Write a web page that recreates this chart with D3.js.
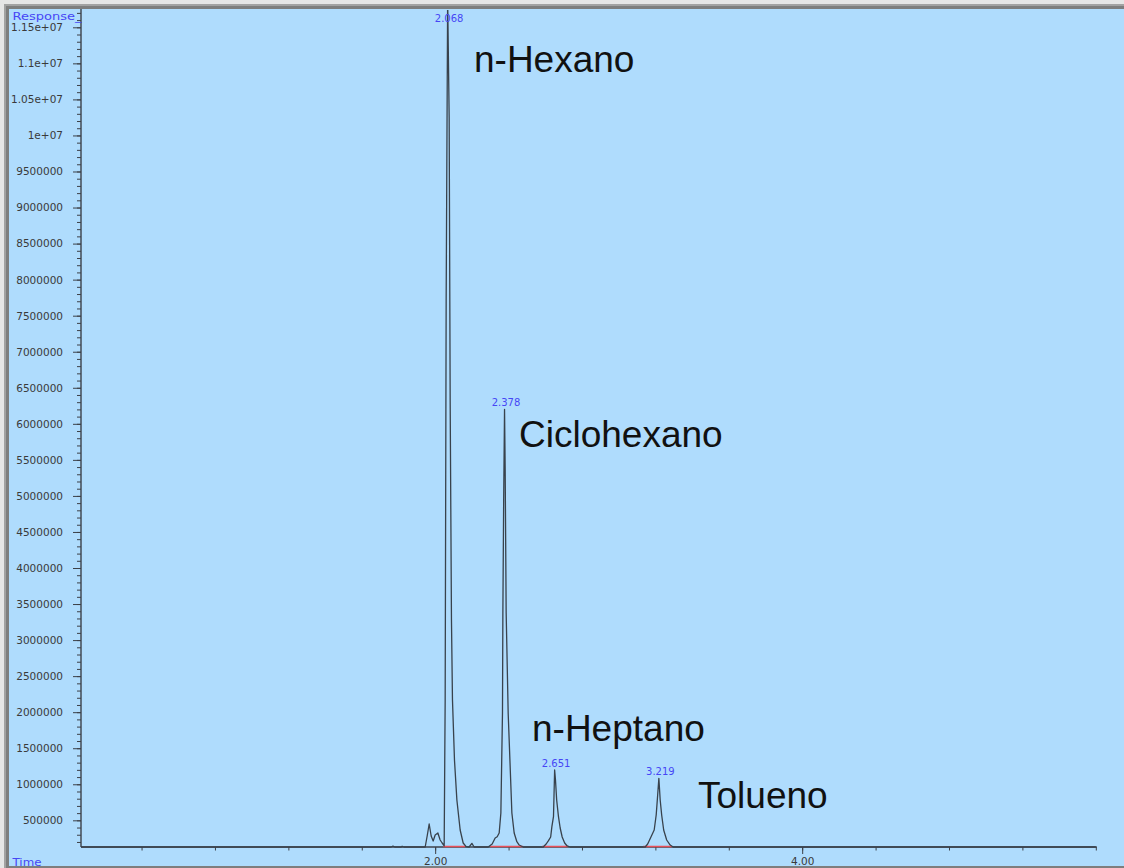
<!DOCTYPE html>
<html>
<head>
<meta charset="utf-8">
<script src="https://cdn.jsdelivr.net/npm/d3@7"></script>
<style>
  html, body { margin: 0; padding: 0; background: #e6e6e6; }
  svg { display: block; }
</style>
</head>
<body>
<svg id="chart" width="1124" height="868"></svg>
<script>
// Chromatogram trace: retention time (min) and detector response
const traceTime = [
  0.07, 1.76, 1.77, 1.78, 1.815, 1.82, 1.83,
  1.9455, 1.9564, 1.9673, 1.9782, 1.9891, 2.0, 2.0147, 2.0272, 2.0381, 2.0463,
  2.049, 2.0545, 2.0599, 2.068, 2.0763, 2.0817, 2.0888, 2.0943, 2.1052, 2.1183, 2.1362, 2.1526, 2.1689,
  2.185, 2.2, 2.2125,
  2.2888, 2.3106, 2.327, 2.3379, 2.3488, 2.358, 2.3668, 2.3689, 2.3733, 2.378, 2.3815, 2.3869, 2.3978, 2.418, 2.4305, 2.4452, 2.4578, 2.4796,
  2.5886, 2.6049, 2.6174, 2.6294, 2.636, 2.6447, 2.651, 2.6556, 2.6621, 2.6719, 2.6812, 2.6921, 2.7057, 2.7193, 2.7357,
  3.1444, 3.158, 3.1809, 3.1935, 3.2044, 3.2125, 3.219, 3.2262, 3.2343, 3.2452, 3.2616, 3.2807, 3.297,
  5.6
];
const traceResponse = [
  130000, 130000, 142000, 130000, 130000, 140000, 130000,
  130000, 282600, 449000, 282600, 213000, 296500, 324200, 227000, 185500, 157700,
  144000, 2169000, 7717000, 11900000, 10240000, 6330000, 3280000, 2169000, 1337000, 782000, 365800, 185500, 134000,
  130000, 181000, 130000,
  130000, 171600, 254800, 272900, 324000, 601600, 1989000, 3376000, 4943000, 6201000, 5359000, 3376000, 1989000, 601600, 324000, 203500, 157700, 130000,
  130000, 171600, 217400, 268700, 411600, 550300, 1198000, 1059000, 782000, 550300, 393500, 268700, 185500, 144000, 130000,
  130000, 171600, 296500, 365800, 574000, 851300, 1083000, 782000, 574000, 365800, 227100, 157700, 130000,
  130000
];

// Identified peaks
const peakTimes = [2.068, 2.378, 2.651, 3.219];
const peakResponses = [11900000, 6201000, 1198000, 1083000];
const peakTimeLabels = ["2.068", "2.378", "2.651", "3.219"];
const compoundNames = ["n-Hexano", "Ciclohexano", "n-Heptano", "Tolueno"];

// Integration baselines (start / end time of each integrated peak)
const integStart = [2.0436, 2.2997, 2.5815, 3.1335];
const integEnd = [2.1635, 2.4796, 2.7248, 3.2899];
const baselineResponse = 130000;

// Axis ticks
const yTickValues = [500000, 1000000, 1500000, 2000000, 2500000, 3000000, 3500000, 4000000,
  4500000, 5000000, 5500000, 6000000, 6500000, 7000000, 7500000, 8000000, 8500000,
  9000000, 9500000, 10000000, 10500000, 11000000, 11500000];
const yTickLabels = ["500000", "1000000", "1500000", "2000000", "2500000", "3000000", "3500000",
  "4000000", "4500000", "5000000", "5500000", "6000000", "6500000", "7000000", "7500000",
  "8000000", "8500000", "9000000", "9500000", "1e+07", "1.05e+07", "1.1e+07", "1.15e+07"];
const xTickValues = [2, 4];
const xTickLabels = ["2.00", "4.00"];

// ---- layout ----
const W = 1124, H = 868;
const plot = { left: 81, right: 1095.8, top: 10, bottom: 847 };
const svg = d3.select("#chart");

// window frame and plot background
svg.append("rect").attr("x", 0).attr("y", 0).attr("width", W).attr("height", H).attr("fill", "#e6e6e6");
svg.append("rect").attr("x", 4).attr("y", 4).attr("width", W - 4).attr("height", H - 4).attr("fill", "#a2a2a2");
svg.append("rect").attr("x", 6).attr("y", 6).attr("width", W - 6).attr("height", H - 6).attr("fill", "#7e7e7e");
svg.append("rect").attr("x", 9).attr("y", 9).attr("width", W - 9).attr("height", H - 11).attr("fill", "#afdcfd");

const x = d3.scaleLinear().domain([0.07, 5.6]).range([plot.left, plot.right]);
const y = d3.scaleLinear().domain([130000, 11740000]).range([plot.bottom, plot.top]);

const axisColor = "#3c4048";
const labelFont = "'DejaVu Sans', sans-serif";

// y axis: minor ticks every 100000, labelled major ticks every 500000
const yMinor = d3.range(200000, 11700001, 100000);
svg.append("g").attr("transform", `translate(${plot.left},0)`)
  .call(d3.axisLeft(y).tickValues(yMinor).tickSize(4).tickSizeOuter(0).tickFormat(""))
  .call(g => g.select(".domain").remove())
  .call(g => g.selectAll("line").attr("stroke", axisColor));

const yAxis = svg.append("g").attr("transform", `translate(${plot.left},0)`)
  .call(d3.axisLeft(y).tickValues(yTickValues).tickSize(8).tickSizeOuter(0).tickPadding(10)
    .tickFormat((d, i) => yTickLabels[i]));
yAxis.select(".domain").remove();
yAxis.selectAll("line").attr("stroke", axisColor);
yAxis.selectAll("text").attr("fill", "#3a3a3a").style("font-family", labelFont).style("font-size", "10.5px");

// x axis: minor ticks every 0.4 min, labels at whole minutes
const xMinor = d3.range(0.4, 5.61, 0.4);
svg.append("g").attr("transform", `translate(0,${plot.bottom})`)
  .call(d3.axisBottom(x).tickValues(xMinor).tickSize(3.5).tickSizeOuter(0).tickFormat(""))
  .call(g => g.select(".domain").remove())
  .call(g => g.selectAll("line").attr("stroke", axisColor));

const xAxis = svg.append("g").attr("transform", `translate(0,${plot.bottom})`)
  .call(d3.axisBottom(x).tickValues(xTickValues).tickSize(7).tickSizeOuter(0).tickPadding(4)
    .tickFormat((d, i) => xTickLabels[i]));
xAxis.select(".domain").remove();
xAxis.selectAll("line").attr("stroke", axisColor);
xAxis.selectAll("text").attr("fill", "#3a3a3a").style("font-family", labelFont).style("font-size", "10.5px");

// axis lines
svg.append("line").attr("x1", plot.left).attr("x2", plot.left).attr("y1", plot.top - 1).attr("y2", plot.bottom)
  .attr("stroke", axisColor).attr("stroke-width", 1.4);
svg.append("line").attr("x1", plot.left).attr("x2", plot.right + 1).attr("y1", plot.bottom).attr("y2", plot.bottom)
  .attr("stroke", axisColor).attr("stroke-width", 1.4);

// axis titles
svg.append("text").attr("x", 12.5).attr("y", 19.5).text("Response_")
  .attr("fill", "#4646f5").style("font-family", labelFont).style("font-size", "11px")
  .attr("textLength", 69).attr("lengthAdjust", "spacingAndGlyphs");
svg.append("text").attr("x", 12.5).attr("y", 865.5).text("Time")
  .attr("fill", "#4646f5").style("font-family", labelFont).style("font-size", "11px")
  .attr("textLength", 29).attr("lengthAdjust", "spacingAndGlyphs");

// clip for the trace
svg.append("clipPath").attr("id", "plotClip").append("rect")
  .attr("x", plot.left).attr("y", plot.top).attr("width", plot.right - plot.left + 2).attr("height", plot.bottom - plot.top + 2);

// integration baselines
svg.append("g").selectAll("line").data(integStart).join("line")
  .attr("x1", (d) => x(d)).attr("x2", (d, i) => x(integEnd[i]))
  .attr("y1", y(baselineResponse) - 0.5).attr("y2", y(baselineResponse) - 0.5)
  .attr("stroke", "#e8505a").attr("stroke-width", 1.5);

// signal trace
const trace = traceTime.map((t, i) => [t, traceResponse[i]]);
svg.append("path").datum(trace)
  .attr("clip-path", "url(#plotClip)")
  .attr("fill", "none").attr("stroke", "#38424c").attr("stroke-width", 1.3)
  .attr("stroke-linejoin", "round")
  .attr("d", d3.line().x(d => x(d[0])).y(d => y(d[1])));

// retention-time labels at peak apex (off-scale peaks get the label just under the top edge)
svg.append("g").selectAll("text").data(peakTimes).join("text")
  .attr("x", d => x(d) + 1.5)
  .attr("y", (d, i) => Math.max(y(peakResponses[i]) - 3.5, plot.top + 12))
  .attr("text-anchor", "middle")
  .attr("fill", "#4646f5").style("font-family", labelFont).style("font-size", "10px")
  .text((d, i) => peakTimeLabels[i]);

// compound names
const namePos = [[474, 72], [519, 447], [532, 741], [698, 808]];
svg.append("g").selectAll("text").data(compoundNames).join("text")
  .attr("x", (d, i) => namePos[i][0]).attr("y", (d, i) => namePos[i][1])
  .attr("fill", "#111").style("font-family", "'Liberation Sans', Arial, sans-serif").style("font-size", "37px")
  .text(d => d);
</script>
</body>
</html>
